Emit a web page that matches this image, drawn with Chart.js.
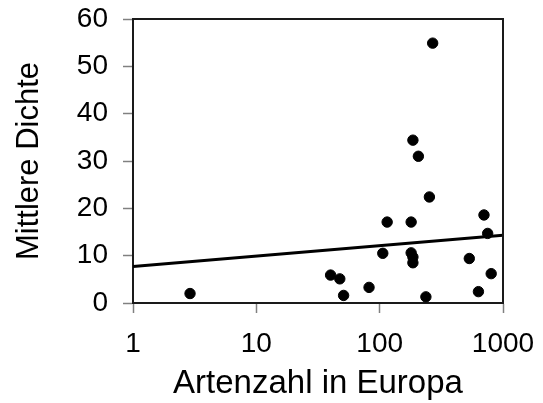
<!DOCTYPE html>
<html>
<head>
<meta charset="utf-8">
<script src="https://cdn.jsdelivr.net/npm/chart.js@4/dist/chart.umd.min.js"></script>
<style>
  html, body { margin: 0; padding: 0; background: #ffffff; }
  #wrap { width: 543px; height: 403px; }
</style>
</head>
<body>
<div id="wrap"><canvas id="c" width="543" height="403"></canvas></div>
<script>
// Data
const artenzahl = [2.9, 40, 47.5, 51, 82, 106, 115, 180, 180, 186, 186, 186, 206, 269, 253, 237, 533, 632, 701, 751, 802];
const dichte    = [2.0, 5.9, 5.1, 1.6, 3.3, 10.5, 17.1, 17.1, 10.6, 9.7, 8.5, 34.4, 31.0, 54.9, 22.4, 1.3, 9.4, 2.4, 18.6, 14.7, 6.2];
const trendX = [1, 1000];
const trendY = [7.7, 14.3];
const xTickValues = [1, 10, 100, 1000];
const yTickValues = [0, 10, 20, 30, 40, 50, 60];
const xTitle = 'Artenzahl in Europa';
const yTitle = 'Mittlere Dichte';

const FONT = "'Liberation Sans', Arial, sans-serif";

const framePlugin = {
  id: 'frame',
  afterDraw(chart) {
    const {ctx, chartArea: a} = chart;
    ctx.save();
    ctx.strokeStyle = '#1a1a1a';
    ctx.lineWidth = 2;
    ctx.beginPath();
    ctx.moveTo(a.left, a.top);
    ctx.lineTo(a.right, a.top);
    ctx.lineTo(a.right, a.bottom);
    ctx.stroke();
    ctx.restore();
  }
};

new Chart(document.getElementById('c'), {
  type: 'scatter',
  data: {
    datasets: [
      {
        label: 'Daten',
        data: artenzahl.map((x, i) => ({x: x, y: dichte[i]})),
        backgroundColor: '#000000',
        borderColor: '#000000',
        pointRadius: 5.2,
        pointHoverRadius: 5.2,
        order: 1
      },
      {
        label: 'Trend',
        type: 'line',
        data: trendX.map((x, i) => ({x: x, y: trendY[i]})),
        borderColor: '#000000',
        borderWidth: 3,
        pointRadius: 0,
        fill: false,
        tension: 0,
        order: 2
      }
    ]
  },
  options: {
    responsive: false,
    animation: false,
    devicePixelRatio: 1,
    layout: { padding: { top: 19, right: 40, left: 0, bottom: 0 } },
    plugins: { legend: { display: false }, tooltip: { enabled: false } },
    scales: {
      x: {
        type: 'logarithmic',
        min: 1,
        max: 1000,
        afterBuildTicks(scale) { scale.ticks = xTickValues.map(v => ({value: v})); },
        afterFit(scale) { scale.height = 100; scale.paddingLeft = 0; scale.paddingRight = 0; },
        ticks: {
          callback: (v) => String(v),
          color: '#000000',
          font: { family: FONT, size: 28, lineHeight: 1 },
          padding: 17,
          maxRotation: 0,
          autoSkip: false
        },
        grid: { drawOnChartArea: false, drawTicks: true, tickLength: 10, tickColor: '#808080', tickWidth: 1.5 },
        border: { display: true, color: '#1a1a1a', width: 2 },
        title: {
          display: true,
          text: xTitle,
          color: '#000000',
          font: { family: FONT, size: 33, lineHeight: 1 },
          padding: { top: 0, bottom: 3 }
        }
      },
      y: {
        type: 'linear',
        min: 0,
        max: 60,
        afterBuildTicks(scale) { scale.ticks = yTickValues.map(v => ({value: v})); },
        afterFit(scale) { scale.width = 133; scale.paddingTop = 0; scale.paddingBottom = 0; },
        ticks: {
          color: '#000000',
          font: { family: FONT, size: 28, lineHeight: 1 },
          padding: 15
        },
        grid: { drawOnChartArea: false, drawTicks: true, tickLength: 10, tickColor: '#808080', tickWidth: 1.5 },
        border: { display: true, color: '#1a1a1a', width: 2 },
        title: {
          display: true,
          text: yTitle,
          color: '#000000',
          font: { family: FONT, size: 31, lineHeight: 1 },
          padding: { top: 14, bottom: 0 }
        }
      }
    }
  },
  plugins: [framePlugin]
});
</script>
</body>
</html>
